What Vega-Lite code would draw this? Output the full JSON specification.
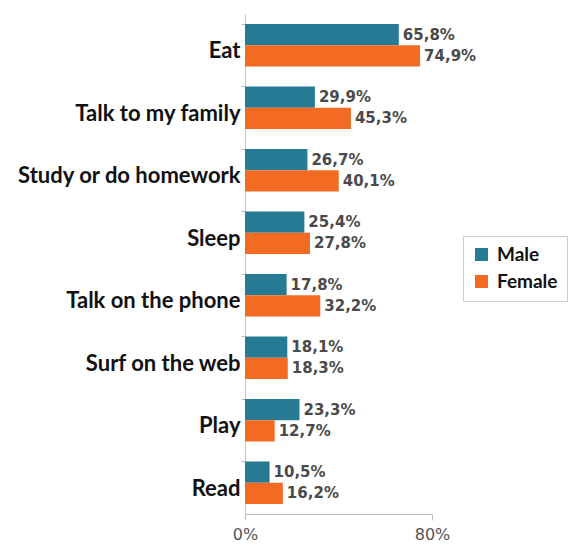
{
  "$schema": "https://vega.github.io/schema/vega-lite/v6.json",
  "width": 187,
  "height": 500,
  "autosize": {"type": "none"},
  "padding": {"left": 245, "top": 14, "right": 150, "bottom": 34},
  "background": "white",
  "data": {
    "values": [
      {"activity": "Eat", "sex": "Male", "pct": 65.8},
      {"activity": "Eat", "sex": "Female", "pct": 74.9},
      {"activity": "Talk to my family", "sex": "Male", "pct": 29.9},
      {"activity": "Talk to my family", "sex": "Female", "pct": 45.3},
      {"activity": "Study or do homework", "sex": "Male", "pct": 26.7},
      {"activity": "Study or do homework", "sex": "Female", "pct": 40.1},
      {"activity": "Sleep", "sex": "Male", "pct": 25.4},
      {"activity": "Sleep", "sex": "Female", "pct": 27.8},
      {"activity": "Talk on the phone", "sex": "Male", "pct": 17.8},
      {"activity": "Talk on the phone", "sex": "Female", "pct": 32.2},
      {"activity": "Surf on the web", "sex": "Male", "pct": 18.1},
      {"activity": "Surf on the web", "sex": "Female", "pct": 18.3},
      {"activity": "Play", "sex": "Male", "pct": 23.3},
      {"activity": "Play", "sex": "Female", "pct": 12.7},
      {"activity": "Read", "sex": "Male", "pct": 10.5},
      {"activity": "Read", "sex": "Female", "pct": 16.2}
    ]
  },
  "transform": [
    {"calculate": "replace(format(datum.pct, '.1f'), '.', ',') + '%'", "as": "label"}
  ],
  "encoding": {
    "y": {
      "field": "activity",
      "type": "nominal",
      "sort": ["Eat", "Talk to my family", "Study or do homework", "Sleep", "Talk on the phone", "Surf on the web", "Play", "Read"],
      "scale": {"paddingInner": 0.32, "paddingOuter": 0.16},
      "axis": {
        "title": null,
        "labelFont": "Lato",
        "labelFontWeight": "bold",
        "labelFontSize": 22,
        "labelColor": "#111111",
        "labelPadding": 1,
        "labelLimit": 400,
        "labelOffset": 6,
        "bandPosition": 0,
        "tickSize": 4,
        "tickColor": "#bbbbbb",
        "domainColor": "#b8c8d0",
        "grid": false
      }
    },
    "yOffset": {"field": "sex", "type": "nominal", "sort": ["Male", "Female"]},
    "x": {
      "field": "pct",
      "type": "quantitative",
      "scale": {"domain": [0, 80], "nice": false},
      "axis": {
        "title": null,
        "values": [0, 80],
        "labelExpr": "datum.value + '%'",
        "labelFlush": false,
        "labelFont": "DejaVu Sans",
        "labelFontSize": 16,
        "labelColor": "#555555",
        "labelPadding": 6,
        "tickSize": 6,
        "tickColor": "#bbbbbb",
        "domainColor": "#bbbbbb",
        "grid": false
      }
    }
  },
  "layer": [
    {
      "mark": {"type": "bar"},
      "encoding": {
        "color": {
          "field": "sex",
          "type": "nominal",
          "sort": ["Male", "Female"],
          "scale": {"domain": ["Male", "Female"], "range": ["#277a94", "#f36a22"]},
          "legend": {
            "title": null,
            "orient": "none",
            "legendX": 218,
            "legendY": 222,
            "symbolType": "square",
            "symbolSize": 169,
            "symbolStrokeWidth": 0,
            "labelFont": "Lato",
            "labelFontWeight": "bold",
            "labelFontSize": 19,
            "labelColor": "#111111",
            "labelOffset": 6,
            "rowPadding": 7,
            "strokeColor": "#cccccc",
            "padding": 9,
            "fillColor": "white"
          }
        }
      }
    },
    {
      "mark": {"type": "text", "align": "left", "baseline": "middle", "dx": 4, "font": "DejaVu Sans", "fontWeight": "bold", "fontSize": 15, "color": "#4a4a4a"},
      "encoding": {"text": {"field": "label"}}
    }
  ],
  "config": {"view": {"stroke": null}}
}
